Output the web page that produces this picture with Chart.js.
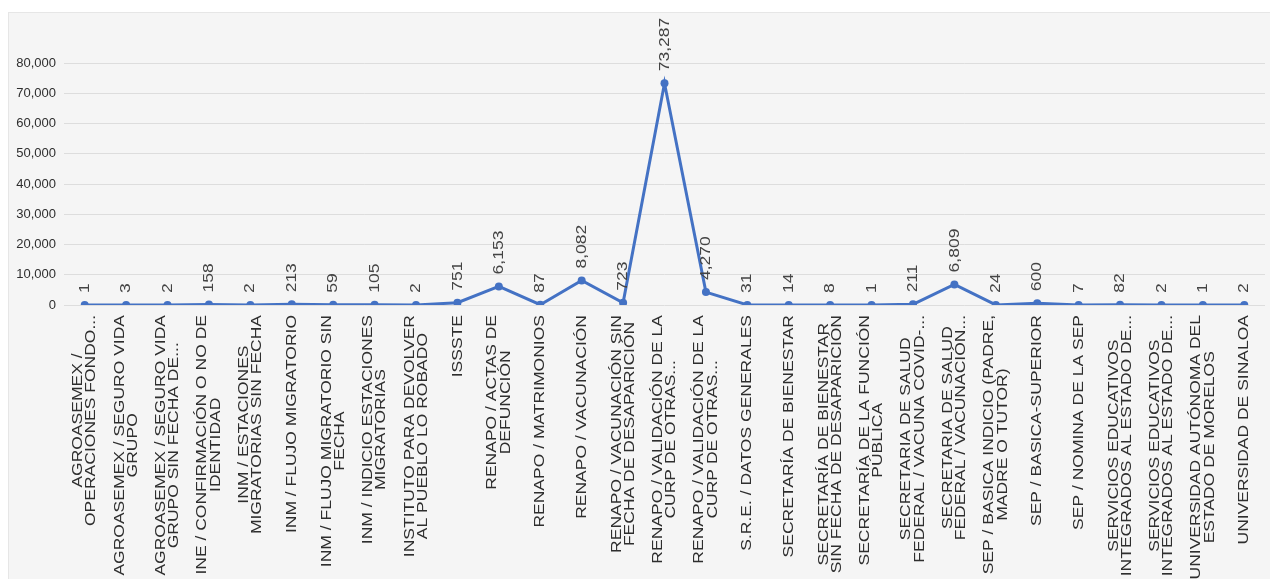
<!DOCTYPE html>
<html>
<head>
<meta charset="utf-8">
<script src="https://cdn.jsdelivr.net/npm/chart.js@4"></script>
<style>
    body { margin: 0; background: #ffffff; }
    #panel {
        position: absolute; left: 8px; top: 12px; width: 1262px; height: 567px;
        background: #f5f5f5; border-top: 1px solid #e6e6e6; border-left: 1px solid #e6e6e6;
        box-sizing: border-box;
    }
</style>
</head>
<body>
<div id="panel"><canvas id="myLineChart"></canvas></div>
<script>
// categories, each one split into the lines shown under the axis
const categories = [
    ['AGROASEMEX /', 'OPERACIONES FONDO...'],
    ['AGROASEMEX / SEGURO VIDA', 'GRUPO'],
    ['AGROASEMEX / SEGURO VIDA', 'GRUPO SIN FECHA DE...'],
    ['INE / CONFIRMACIÓN O NO DE', 'IDENTIDAD'],
    ['INM / ESTACIONES', 'MIGRATORIAS SIN FECHA'],
    ['INM / FLUJO MIGRATORIO'],
    ['INM / FLUJO MIGRATORIO SIN', 'FECHA'],
    ['INM / INDICIO ESTACIONES', 'MIGRATORIAS'],
    ['INSTITUTO PARA DEVOLVER', 'AL PUEBLO LO ROBADO'],
    ['ISSSTE'],
    ['RENAPO / ACTAS DE', 'DEFUNCIÓN'],
    ['RENAPO / MATRIMONIOS'],
    ['RENAPO / VACUNACIÓN'],
    ['RENAPO / VACUNACIÓN SIN', 'FECHA DE DESAPARICIÓN'],
    ['RENAPO / VALIDACIÓN DE LA', 'CURP DE OTRAS...'],
    ['RENAPO / VALIDACIÓN DE LA', 'CURP DE OTRAS...'],
    ['S.R.E. / DATOS GENERALES'],
    ['SECRETARÍA DE BIENESTAR'],
    ['SECRETARÍA DE BIENESTAR', 'SIN FECHA DE DESAPARICIÓN'],
    ['SECRETARÍA DE LA FUNCIÓN', 'PÚBLICA'],
    ['SECRETARIA DE SALUD', 'FEDERAL / VACUNA COVID-...'],
    ['SECRETARIA DE SALUD', 'FEDERAL / VACUNACIÓN...'],
    ['SEP / BASICA INDICIO (PADRE,', 'MADRE O TUTOR)'],
    ['SEP / BASICA-SUPERIOR'],
    ['SEP / NOMINA DE LA SEP'],
    ['SERVICIOS EDUCATIVOS', 'INTEGRADOS AL ESTADO DE...'],
    ['SERVICIOS EDUCATIVOS', 'INTEGRADOS AL ESTADO DE...'],
    ['UNIVERSIDAD AUTÓNOMA DEL', 'ESTADO DE MORELOS'],
    ['UNIVERSIDAD DE SINALOA']
];

const values = [1, 3, 2, 158, 2, 213, 59, 105, 2, 751, 6153, 87, 8082, 723, 73287,
    4270, 31, 14, 8, 1, 211, 6809, 24, 600, 7, 82, 2, 1, 2];

const yTicks = [0, 10000, 20000, 30000, 40000, 50000, 60000, 70000, 80000];

const lineColor = '#4472c4';
const textColor = '#2e2e2e';
const rotFont = '17.5px "Liberation Sans", Arial, sans-serif';

// rotated category labels, lines centred on each other like the original
const xLabelPlugin = {
    id: 'xLabelPlugin',
    afterDraw(chart) {
        const ctx = chart.ctx;
        const xs = chart.scales.x;
        ctx.save();
        ctx.font = rotFont;
        ctx.fillStyle = textColor;
        ctx.textAlign = 'center';
        ctx.textBaseline = 'middle';
        categories.forEach((lines, i) => {
            const x = xs.getPixelForTick(i);
            const maxW = Math.max(...lines.map(l => ctx.measureText(l).width));
            const lh = 15.5;
            ctx.save();
            ctx.translate(x, xs.top + 10);
            ctx.scale(0.85, 1);
            ctx.rotate(-Math.PI / 2);
            lines.forEach((l, j) => {
                ctx.fillText(l, -maxW / 2, (j - (lines.length - 1) / 2) * lh);
            });
            ctx.restore();
        });
        ctx.restore();
    }
};

// value labels above each point
const valueLabelPlugin = {
    id: 'valueLabelPlugin',
    afterDatasetsDraw(chart) {
        const ctx = chart.ctx;
        const meta = chart.getDatasetMeta(0);
        ctx.save();
        ctx.font = rotFont;
        ctx.fillStyle = '#444444';
        ctx.textAlign = 'left';
        ctx.textBaseline = 'middle';
        meta.data.forEach((pt, i) => {
            ctx.save();
            ctx.translate(pt.x, pt.y - 12);
            ctx.scale(0.85, 1);
            ctx.rotate(-Math.PI / 2);
            ctx.fillText(values[i].toLocaleString('en-US'), 0, 0);
            ctx.restore();
        });
        ctx.restore();
    }
};

const ctx = document.getElementById('myLineChart').getContext('2d');
new Chart(ctx, {
    type: 'line',
    data: {
        labels: categories,
        datasets: [{
            data: values,
            borderColor: lineColor,
            backgroundColor: lineColor,
            borderWidth: 3,
            pointRadius: 4,
            pointBackgroundColor: lineColor,
            pointBorderWidth: 0,
            tension: 0
        }]
    },
    options: {
        responsive: true,
        maintainAspectRatio: false,
        animation: false,
        layout: { padding: { top: 50, right: 5, left: 0, bottom: 0 } },
        plugins: {
            legend: { display: false },
            tooltip: { enabled: false }
        },
        scales: {
            x: {
                offset: true,
                grid: { display: false },
                border: { display: false },
                ticks: { display: false },
                afterFit(scale) { scale.height = 274; }
            },
            y: {
                min: yTicks[0],
                max: yTicks[yTicks.length - 1],
                afterBuildTicks(scale) { scale.ticks = yTicks.map(v => ({ value: v })); },
                afterFit(scale) { scale.width = 55; },
                border: { display: false },
                grid: { color: '#dddddd', lineWidth: 1, drawTicks: false },
                ticks: {
                    padding: 8,
                    color: textColor,
                    font: { family: '"Liberation Sans", Arial, sans-serif', size: 13 },
                    callback: v => v.toLocaleString('en-US')
                }
            }
        }
    },
    plugins: [xLabelPlugin, valueLabelPlugin]
});
</script>
</body>
</html>
